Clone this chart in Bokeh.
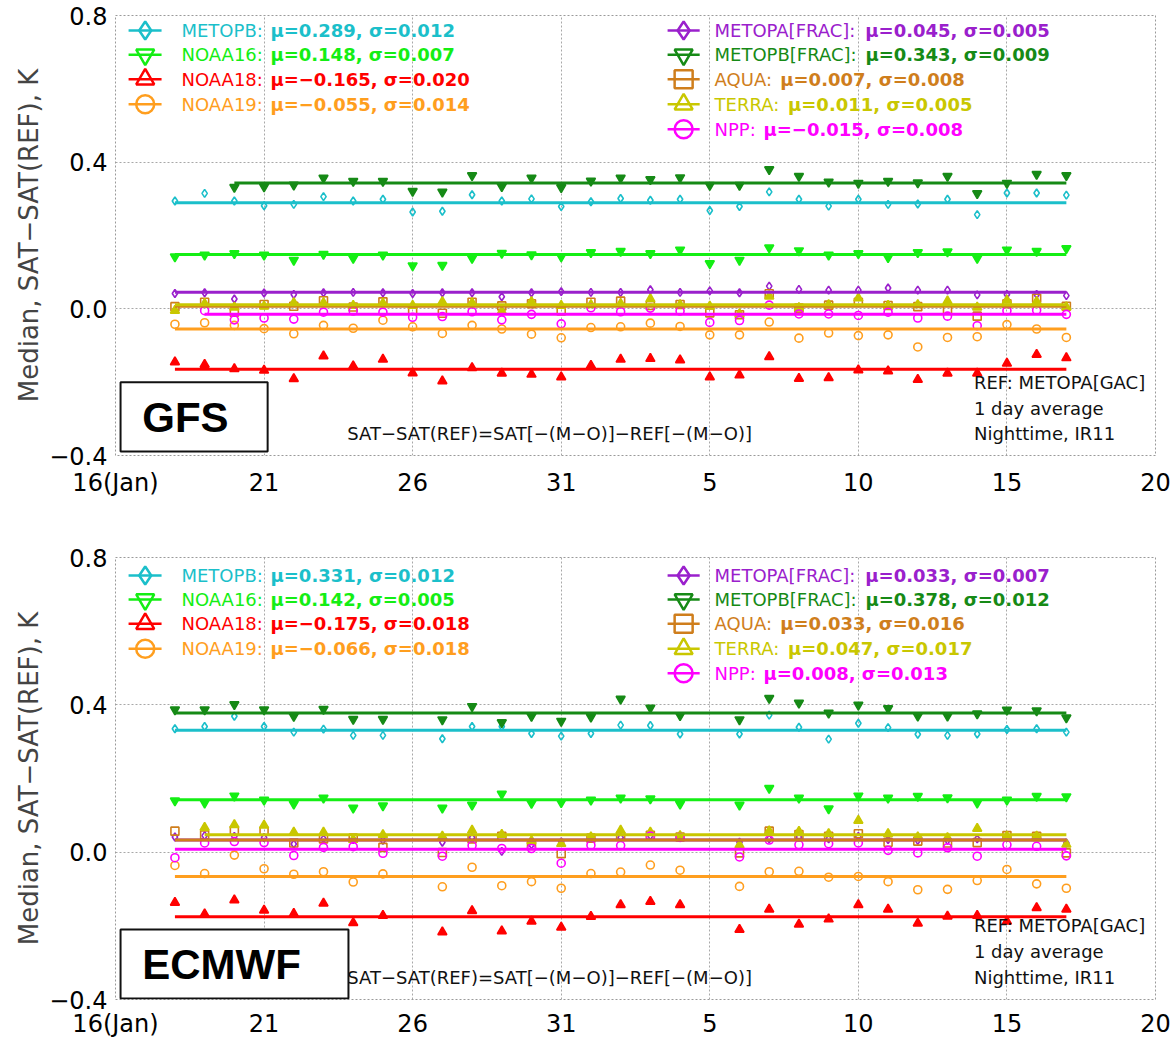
import numpy as np
from bokeh.plotting import figure
from bokeh.layouts import column
from bokeh.models import Range1d, FixedTicker, CustomJSTickFormatter
from bokeh.core.properties import value
from bokeh.embed import file_html
from bokeh.resources import INLINE

# ---------------- data ----------------
days = list(range(18, 49))            # Jan 18 .. Feb 17 (Feb 1 = 32)
x_tick_values = [16, 21, 26, 31, 36, 41, 46, 51]
x_tick_labels = ["16(Jan)", "21", "26", "31", "5", "10", "15", "20"]
y_tick_values = [-0.4, 0.0, 0.4, 0.8]

names = ["METOPB", "NOAA16", "NOAA18", "NOAA19",
         "METOPA[FRAC]", "METOPB[FRAC]", "AQUA", "TERRA", "NPP"]
colors = {"METOPB": "#1BBFCA", "NOAA16": "#14EE14", "NOAA18": "#FF0000", "NOAA19": "#FF9E1E",
          "METOPA[FRAC]": "#9A20CC", "METOPB[FRAC]": "#168A16", "AQUA": "#CF7E1C",
          "TERRA": "#C9C700", "NPP": "#FF00FF"}
markers = {"METOPB": "diamond", "NOAA16": "inverted_triangle", "NOAA18": "triangle",
           "NOAA19": "circle", "METOPA[FRAC]": "diamond", "METOPB[FRAC]": "inverted_triangle",
           "AQUA": "square", "TERRA": "triangle", "NPP": "circle"}

# GFS panel
gfs_mu = {"METOPB": 0.289, "NOAA16": 0.148, "NOAA18": -0.165, "NOAA19": -0.055,
          "METOPA[FRAC]": 0.045, "METOPB[FRAC]": 0.343, "AQUA": 0.007, "TERRA": 0.011, "NPP": -0.015}
gfs_sd = {"METOPB": 0.012, "NOAA16": 0.007, "NOAA18": 0.020, "NOAA19": 0.014,
          "METOPA[FRAC]": 0.005, "METOPB[FRAC]": 0.009, "AQUA": 0.008, "TERRA": 0.005, "NPP": 0.008}
gfs_metopb = [0.294, 0.315, 0.294, 0.281, 0.285, 0.306, 0.294, 0.299, 0.264, 0.266, 0.311, 0.294, 0.300, 0.279, 0.292, 0.301,
              0.296, 0.299, 0.268, 0.279, 0.319, 0.299, 0.280, 0.299, 0.285, 0.286, 0.299, 0.257, 0.316, 0.316, 0.310]
gfs_noaa16 = [0.142, 0.147, 0.151, 0.147, 0.133, 0.149, 0.138, 0.147, 0.118, 0.119, 0.138, 0.152, 0.148, 0.142, 0.154, 0.157,
              0.151, 0.161, 0.124, 0.133, 0.167, 0.159, 0.147, 0.151, 0.140, 0.154, 0.156, 0.138, 0.161, 0.157, 0.165]
gfs_noaa18 = [-0.145, -0.152, -0.164, -0.168, -0.191, -0.129, -0.156, -0.138, -0.175, -0.197, -0.161, -0.176, -0.179, -0.186, -0.155, -0.138,
              -0.136, -0.140, -0.186, -0.181, -0.131, -0.190, -0.188, -0.167, -0.170, -0.193, -0.176, -0.176, -0.149, -0.125, -0.134]
gfs_noaa19 = [-0.042, -0.038, -0.045, -0.054, -0.068, -0.045, -0.053, -0.031, -0.049, -0.067, -0.045, -0.055, -0.069, -0.079, -0.051, -0.049,
              -0.039, -0.048, -0.071, -0.071, -0.036, -0.080, -0.066, -0.073, -0.071, -0.104, -0.078, -0.076, -0.043, -0.055, -0.078]
gfs_metopa_frac = [0.042, 0.044, 0.027, 0.043, 0.039, 0.044, 0.045, 0.044, 0.042, 0.044, 0.044, 0.033, 0.044, 0.047, 0.045, 0.045,
                   0.052, 0.045, 0.049, 0.044, 0.062, 0.053, 0.051, 0.051, 0.057, 0.051, 0.051, 0.038, 0.039, 0.039, 0.036]
gfs_metopb_frac = [None, None, 0.332, 0.333, 0.338, 0.357, 0.348, 0.348, 0.321, 0.319, 0.364, 0.334, 0.357, 0.331, 0.349, 0.357,
                   0.353, 0.358, 0.337, 0.337, 0.380, 0.362, 0.346, 0.343, 0.348, 0.344, 0.362, 0.315, 0.343, 0.367, 0.364]
gfs_aqua = [0.006, 0.018, -0.009, 0.012, 0.007, 0.022, 0.005, 0.019, -0.004, -0.012, 0.018, 0.008, 0.014, -0.006, 0.018, 0.021,
            0.009, 0.012, -0.011, -0.016, 0.041, 0.002, 0.010, 0.018, 0.009, 0.006, -0.003, -0.020, 0.014, 0.029, 0.007]
gfs_terra = [-0.005, 0.014, 0.004, 0.007, 0.016, 0.016, 0.009, 0.015, 0.009, 0.019, 0.016, -0.007, 0.019, 0.009, 0.011, 0.014,
             0.027, 0.011, 0.007, -0.014, 0.034, 0.003, 0.011, 0.029, 0.009, 0.011, 0.021, 0.004, 0.023, 0.020, 0.005]
gfs_npp = [None, -0.005, -0.030, -0.025, -0.028, -0.009, -0.006, -0.009, -0.023, -0.021, -0.008, -0.030, -0.015, -0.041, 0.003, -0.008,
           0.002, -0.006, -0.037, -0.032, 0.010, -0.014, -0.014, -0.018, -0.009, -0.025, -0.020, -0.046, -0.005, -0.004, -0.015]

# ECMWF panel
ec_mu = {"METOPB": 0.331, "NOAA16": 0.142, "NOAA18": -0.175, "NOAA19": -0.066,
         "METOPA[FRAC]": 0.033, "METOPB[FRAC]": 0.378, "AQUA": 0.033, "TERRA": 0.047, "NPP": 0.008}
ec_sd = {"METOPB": 0.012, "NOAA16": 0.005, "NOAA18": 0.018, "NOAA19": 0.018,
         "METOPA[FRAC]": 0.007, "METOPB[FRAC]": 0.012, "AQUA": 0.016, "TERRA": 0.017, "NPP": 0.013}
ec_metopb = [0.335, 0.341, 0.369, 0.341, 0.326, 0.334, 0.317, 0.317, None, 0.308, 0.341, 0.341, 0.322, 0.315, 0.322, 0.345,
             0.344, 0.321, None, 0.321, 0.372, 0.339, 0.307, 0.350, 0.338, 0.320, 0.317, 0.321, 0.333, 0.335, 0.326]
ec_noaa16 = [0.140, 0.134, 0.153, 0.142, 0.131, 0.147, 0.120, 0.126, None, 0.120, 0.128, 0.158, 0.133, 0.135, 0.142, 0.147,
             0.145, 0.131, None, 0.128, 0.174, 0.147, 0.118, 0.153, 0.147, 0.152, 0.148, 0.134, 0.142, 0.152, 0.151]
ec_noaa18 = [-0.137, -0.168, -0.130, -0.158, -0.167, -0.139, -0.192, -0.172, None, -0.217, -0.159, -0.214, -0.188, -0.204, -0.175, -0.143,
             -0.134, -0.143, None, -0.210, -0.155, -0.196, -0.182, -0.143, -0.155, -0.193, -0.174, -0.172, -0.188, -0.151, -0.155]
ec_noaa19 = [-0.036, -0.058, -0.008, -0.045, -0.060, -0.053, -0.081, -0.059, None, -0.094, -0.041, -0.091, -0.080, -0.098, -0.058, -0.054,
             -0.035, -0.049, None, -0.093, -0.053, -0.052, -0.068, -0.066, -0.080, -0.102, -0.101, -0.077, -0.047, -0.086, -0.098]
ec_metopa_frac = [0.041, 0.045, 0.043, 0.040, 0.022, 0.036, 0.034, 0.032, None, 0.027, 0.040, 0.002, 0.020, 0.028, 0.039, 0.040,
                  0.045, 0.041, None, 0.027, 0.036, 0.041, 0.036, 0.043, 0.034, 0.032, 0.032, 0.036, 0.040, 0.043, 0.025]
ec_metopb_frac = [0.387, 0.387, 0.401, 0.387, 0.369, 0.388, 0.361, 0.361, None, 0.360, 0.396, 0.352, 0.369, 0.356, 0.367, 0.416,
                  0.392, 0.371, None, 0.360, 0.418, 0.405, 0.378, 0.400, 0.390, 0.370, 0.370, 0.376, 0.386, 0.384, 0.365]
ec_aqua = [0.057, 0.047, 0.059, 0.057, 0.025, 0.036, 0.038, 0.013, None, -0.001, 0.036, 0.043, 0.018, -0.004, 0.038, 0.043,
           0.046, 0.041, None, -0.002, 0.057, 0.048, 0.043, 0.050, 0.027, 0.030, 0.025, 0.026, 0.045, 0.043, -0.002]
ec_terra = [None, 0.067, 0.074, 0.073, 0.054, 0.054, 0.034, 0.047, None, 0.043, 0.059, 0.048, 0.031, 0.023, 0.041, 0.059,
            0.054, 0.044, None, 0.019, 0.057, 0.056, 0.050, 0.086, 0.050, 0.041, 0.039, 0.064, 0.043, 0.043, 0.021]
ec_npp = [-0.015, 0.025, 0.029, 0.026, -0.009, 0.013, 0.015, -0.003, None, -0.011, 0.018, 0.010, 0.010, -0.030, 0.019, 0.018,
          0.044, 0.040, None, -0.013, 0.033, 0.020, 0.023, 0.025, 0.005, -0.002, 0.012, -0.011, 0.020, 0.016, -0.010]

gfs_values = {"METOPB": gfs_metopb, "NOAA16": gfs_noaa16, "NOAA18": gfs_noaa18, "NOAA19": gfs_noaa19,
              "METOPA[FRAC]": gfs_metopa_frac, "METOPB[FRAC]": gfs_metopb_frac, "AQUA": gfs_aqua,
              "TERRA": gfs_terra, "NPP": gfs_npp}
ec_values = {"METOPB": ec_metopb, "NOAA16": ec_noaa16, "NOAA18": ec_noaa18, "NOAA19": ec_noaa19,
             "METOPA[FRAC]": ec_metopa_frac, "METOPB[FRAC]": ec_metopb_frac, "AQUA": ec_aqua,
             "TERRA": ec_terra, "NPP": ec_npp}

ann_lines = ["REF: METOPA[GAC]", "1 day average", "Nighttime, IR11"]
formula = "SAT\u2212SAT(REF)=SAT[\u2212(M\u2212O)]\u2212REF[\u2212(M\u2212O)]"
y_title = "Median, SAT\u2212SAT(REF), K"

# ---------------- helpers ----------------
FONT = "DejaVu Sans"
TICK_FS = "24px"
DV = {' ': .318, ':': .337, '[': .390, ']': .390, 'A': .684, 'B': .686, 'C': .698, 'E': .632,
      'F': .575, 'M': .863, 'N': .748, 'O': .787, 'P': .603, 'Q': .787, 'R': .695, 'T': .611, 'U': .732}


def text_w(s, size):
    return sum(DV.get(c, .636) for c in s) * size


def fmt(v):
    return f"{v:.3f}".replace("-", "\u2212")


LEG_FS = 18
left_cols = names[:4]
right_cols = names[4:]


def build(values, mu, sd, box_label, box_lrtb, label_y, legend_rows_y, height, b_top, b_bottom, xstand):
    p = figure(width=1172, height=height, x_range=Range1d(16, 51), y_range=Range1d(-0.4, 0.8),
               output_backend="svg", toolbar_location=None,
               min_border_left=115, min_border_right=17, min_border_top=b_top, min_border_bottom=b_bottom,
               background_fill_color="white", border_fill_color="white")
    p.xaxis.ticker = FixedTicker(ticks=x_tick_values)
    p.xaxis.formatter = CustomJSTickFormatter(args=dict(t=x_tick_values, l=x_tick_labels),
                                              code="const i = t.indexOf(tick); return i >= 0 ? l[i] : '';")
    p.yaxis.ticker = FixedTicker(ticks=y_tick_values)
    p.yaxis.formatter = CustomJSTickFormatter(code="return tick.toFixed(1).replace('-', '\u2212');")
    for ax in (p.xaxis[0], p.yaxis[0]):
        ax.axis_line_color = None
        ax.major_tick_line_color = None
        ax.minor_tick_line_color = None
        ax.major_tick_out = 0
        ax.major_tick_in = 0
        ax.minor_tick_out = 0
        ax.minor_tick_in = 0
        ax.major_label_text_font = FONT
        ax.major_label_text_font_size = TICK_FS
        ax.major_label_text_color = "#000000"
    p.xaxis.major_label_standoff = xstand
    p.yaxis.major_label_standoff = 8
    p.yaxis.axis_label = y_title
    p.yaxis.axis_label_text_font = FONT
    p.yaxis.axis_label_text_font_size = "26px"
    p.yaxis.axis_label_text_font_style = "normal"
    p.yaxis.axis_label_standoff = 2
    p.grid.grid_line_color = "#A8A8A8"
    p.grid.grid_line_dash = "2 2"
    p.grid.grid_line_width = 1
    p.outline_line_color = "#9A9A9A"
    p.outline_line_dash = "2 2"
    p.outline_line_width = 1

    # data points
    for n in names:
        y = np.array(values[n], dtype=float)
        m = markers[n]
        filled = m in ("triangle", "inverted_triangle")
        p.scatter(days, y, marker=m, size=9 if filled else 8,
                  line_color=colors[n], fill_color=colors[n] if filled else None,
                  line_width=1.6)
    # mean lines
    for n in names:
        y = np.array(values[n], dtype=float)
        valid = [d for d, v in zip(days, y) if not np.isnan(v)]
        p.line([valid[0], valid[-1]], [mu[n], mu[n]], line_color=colors[n], line_width=3)

    # legend
    for col, (mx, sx0, sx1, tx) in ((left_cols, (17.0, 16.44, 17.55, 18.22)),
                                    (right_cols, (35.12, 34.58, 35.66, 36.16))):
        ys = legend_rows_y[:len(col)]
        cs = [colors[n] for n in col]
        p.segment(x0=[sx0] * len(col), x1=[sx1] * len(col), y0=ys, y1=ys, line_color=cs, line_width=2.5)
        for n, yy in zip(col, ys):
            p.scatter([mx], [yy], marker=markers[n], size=18, line_color=colors[n], fill_color=None,
                      line_width=2.5)
        lab = [n + ":" for n in col]
        p.text(x=[tx] * len(col), y=ys, text=lab, text_color=cs, text_font=value(FONT),
               text_font_size=f"{LEG_FS}px", text_baseline="middle", text_align="left")
        offs = [text_w(n + ": ", LEG_FS) + 2 for n in col]
        stats = [f"\u03bc={fmt(mu[n])}, \u03c3={fmt(sd[n])}" for n in col]
        p.text(x=[tx] * len(col), y=ys, text=stats, x_offset=offs, text_color=cs, text_font=value(FONT),
               text_font_size=f"{LEG_FS}px", text_font_style="bold", text_baseline="middle", text_align="left")

    # annotations
    p.text(x=[44.89] * 3, y=[-0.200, -0.271, -0.339], text=ann_lines, text_color="#111111",
           text_font=value(FONT), text_font_size="18px", text_baseline="middle", text_align="left")
    p.text(x=[23.8], y=[-0.339], text=[formula], text_color="#111111",
           text_font=value(FONT), text_font_size="18px", text_baseline="middle", text_align="left")

    # model box
    l, r, t, b = box_lrtb
    p.quad(left=[l], right=[r], top=[t], bottom=[b],
           fill_color="white", line_color="#111111", line_width=2)
    p.text(x=[16.9], y=[label_y], text=[box_label], text_color="#000000",
           text_font=value("Liberation Sans"), text_font_size="42px", text_font_style="bold",
           text_baseline="middle", text_align="left")
    return p


p1 = build(gfs_values, gfs_mu, gfs_sd, "GFS", (16.17, 21.12, -0.200, -0.389), -0.297,
           [0.759, 0.693, 0.626, 0.558, 0.490], 542, 15, 87, 13)
p2 = build(ec_values, ec_mu, ec_sd, "ECMWF", (16.17, 23.84, -0.210, -0.397), -0.305,
           [0.751, 0.686, 0.620, 0.552, 0.486], 498, 15, 40, 10)

layout = column(p1, p2, spacing=0)
open("out.html", "w").write(file_html(layout, INLINE))
